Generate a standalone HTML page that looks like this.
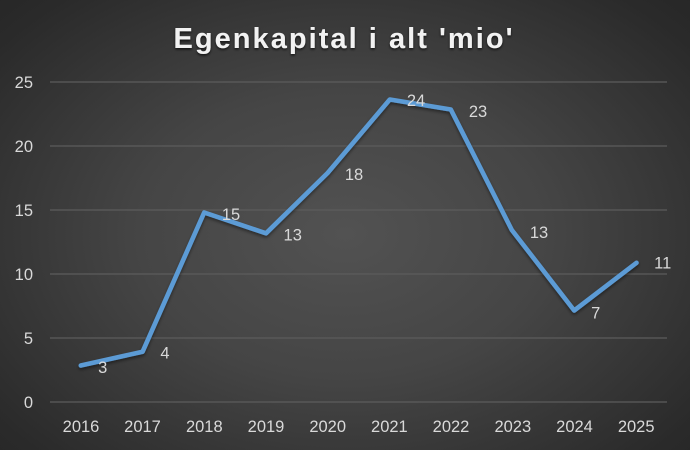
<!DOCTYPE html>
<html>
<head>
<meta charset="utf-8">
<style>
  html,body{margin:0;padding:0;}
  body{width:690px;height:450px;overflow:hidden;
    background: radial-gradient(ellipse 75% 80% at 50% 52%, #525252 0%, #454545 40%, #2a2a2a 85%, #252525 100%);}
  svg{display:block;}
  text{font-family:"Liberation Sans",Arial,sans-serif;}
</style>
</head>
<body>
<svg width="690" height="450" viewBox="0 0 690 450" xmlns="http://www.w3.org/2000/svg">
  <defs>
    <filter id="ts" x="-10%" y="-30%" width="120%" height="160%">
      <feDropShadow dx="0" dy="1.5" stdDeviation="1.2" flood-color="#000" flood-opacity="0.7"/>
    </filter>
    <filter id="ls" x="-10%" y="-10%" width="120%" height="120%">
      <feDropShadow dx="0" dy="2" stdDeviation="1.5" flood-color="#000" flood-opacity="0.45"/>
    </filter>
  </defs>

  <!-- title -->
  <text x="343" y="48" text-anchor="middle" font-size="29" font-weight="bold" fill="#f2f2f2" textLength="339" lengthAdjust="spacing" filter="url(#ts)">Egenkapital i alt 'mio'</text>

  <!-- gridlines -->
  <g stroke="#5c5c5c" stroke-width="1.3">
    <line x1="50" y1="82" x2="667" y2="82"/>
    <line x1="50" y1="146" x2="667" y2="146"/>
    <line x1="50" y1="210" x2="667" y2="210"/>
    <line x1="50" y1="274" x2="667" y2="274"/>
    <line x1="50" y1="338" x2="667" y2="338"/>
    <line x1="50" y1="402" x2="667" y2="402"/>
  </g>

  <!-- y labels -->
  <g font-size="16.5" fill="#d9d9d9" text-anchor="end">
    <text x="33" y="88">25</text>
    <text x="33" y="152">20</text>
    <text x="33" y="216">15</text>
    <text x="33" y="280">10</text>
    <text x="33" y="344">5</text>
    <text x="33" y="408">0</text>
  </g>

  <!-- x labels -->
  <g font-size="16.5" fill="#d9d9d9" text-anchor="middle">
    <text x="81" y="432">2016</text>
    <text x="142.5" y="432">2017</text>
    <text x="204.3" y="432">2018</text>
    <text x="266" y="432">2019</text>
    <text x="327.7" y="432">2020</text>
    <text x="389.4" y="432">2021</text>
    <text x="451" y="432">2022</text>
    <text x="512.8" y="432">2023</text>
    <text x="574.5" y="432">2024</text>
    <text x="636.2" y="432">2025</text>
  </g>

  <!-- series -->
  <polyline fill="none" stroke="#5b9bd5" stroke-width="4.6" stroke-linejoin="round" stroke-linecap="round" filter="url(#ls)"
    points="80.8,365.5 142.6,351.7 204.2,212.5 266,233.3 327.6,173 389.8,99.5 450.8,109.5 511.8,230 574.2,310.5 636.5,262.8"/>

  <!-- data labels -->
  <g font-size="16.5" fill="#d9d9d9" text-anchor="middle">
    <text x="102.7" y="373">3</text>
    <text x="165" y="358.5">4</text>
    <text x="231" y="220">15</text>
    <text x="292.7" y="240.5">13</text>
    <text x="354" y="180">18</text>
    <text x="416" y="106">24</text>
    <text x="478" y="117">23</text>
    <text x="539" y="238">13</text>
    <text x="595.7" y="318.5">7</text>
    <text x="662.7" y="268.5">11</text>
  </g>
</svg>
</body>
</html>
